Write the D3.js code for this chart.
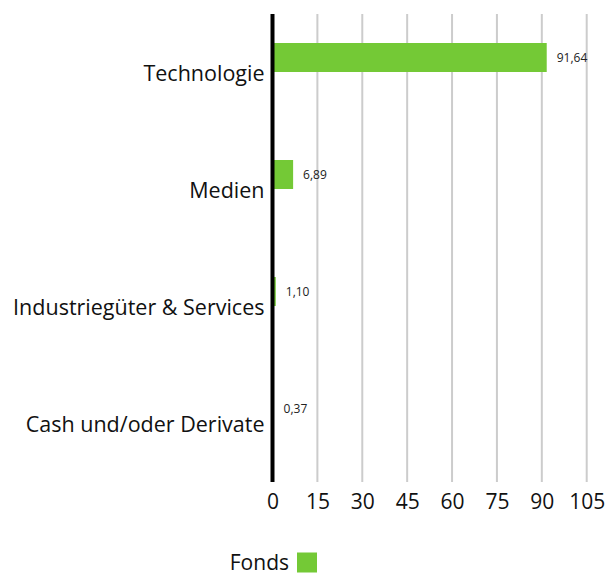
<html>
<head>
<meta charset="utf-8">
<script src="https://d3js.org/d3.v7.min.js"></script>
<style>
  body { margin: 0; background: #fff; }
  text { font-family: "Open Sans", sans-serif; }
</style>
</head>
<body>
<script>
const categories = ["Technologie", "Medien", "Industriegüter & Services", "Cash und/oder Derivate"];
const fondsValues = [91.64, 6.89, 1.10, 0.37];
const tickValues = [0, 15, 30, 45, 60, 75, 90, 105];
const seriesName = "Fonds";

const w = 606, h = 575;
const plotLeft = 272.5, plotRight = 586.7, plotTop = 14, plotBottom = 482;
const green = "#74c936";

const svg = d3.select("body").append("svg")
  .attr("width", w)
  .attr("height", h);

const x = d3.scaleLinear().domain([0, 105]).range([plotLeft, plotRight]);
const y = d3.scaleBand().domain(categories).range([plotTop, plotBottom]);

// gridlines
svg.append("g")
  .selectAll("line")
  .data(tickValues.slice(1))
  .enter()
  .append("line")
  .attr("x1", d => x(d)).attr("x2", d => x(d))
  .attr("y1", plotTop).attr("y2", plotBottom)
  .attr("stroke", "#cccccc")
  .attr("stroke-width", 2);

// bars sit in the upper half of each band
const barH = 29;
svg.append("g")
  .selectAll("rect")
  .data(fondsValues)
  .enter()
  .append("rect")
  .attr("x", x(0))
  .attr("y", (d, i) => y(categories[i]) + y.bandwidth() / 2 - barH - 0.5)
  .attr("width", d => x(d) - x(0))
  .attr("height", barH)
  .attr("fill", green);

// value labels
svg.append("g")
  .selectAll("text")
  .data(fondsValues)
  .enter()
  .append("text")
  .attr("x", d => x(d) + 10)
  .attr("y", (d, i) => y(categories[i]) + y.bandwidth() / 2 - barH / 2)
  .attr("dy", "0.3em")
  .attr("font-size", 12)
  .attr("fill", "#222")
  .text(d => d.toFixed(2).replace(".", ","));

// x axis labels
const xAxis = d3.axisBottom(x).tickValues(tickValues).tickSize(0);
const gx = svg.append("g")
  .attr("transform", "translate(0," + plotBottom + ")")
  .call(xAxis);
gx.select(".domain").remove();
gx.selectAll("text")
  .attr("y", 26.5)
  .attr("dy", 0)
  .attr("font-size", 21)
  .attr("fill", "#111")
  .style("font-family", "'Open Sans', sans-serif");

// y axis labels
const yAxis = d3.axisLeft(y).tickSize(0).tickPadding(8);
const gy = svg.append("g")
  .attr("transform", "translate(" + plotLeft + ",0)")
  .call(yAxis);
gy.select(".domain").remove();
gy.selectAll("text")
  .attr("font-size", 21.5)
  .attr("fill", "#111")
  .attr("dy", "0.38em")
  .style("font-family", "'Open Sans', sans-serif");

// baseline
svg.append("line")
  .attr("x1", x(0)).attr("x2", x(0))
  .attr("y1", plotTop).attr("y2", plotBottom)
  .attr("stroke", "#000")
  .attr("stroke-width", 4);

// legend
const lg = svg.append("g").attr("transform", "translate(289,570)");
lg.append("text")
  .attr("text-anchor", "end")
  .attr("font-size", 21)
  .attr("fill", "#111")
  .text(seriesName);
lg.append("rect")
  .attr("x", 8).attr("y", -17.5)
  .attr("width", 20).attr("height", 20)
  .attr("fill", green);
</script>
</body>
</html>
